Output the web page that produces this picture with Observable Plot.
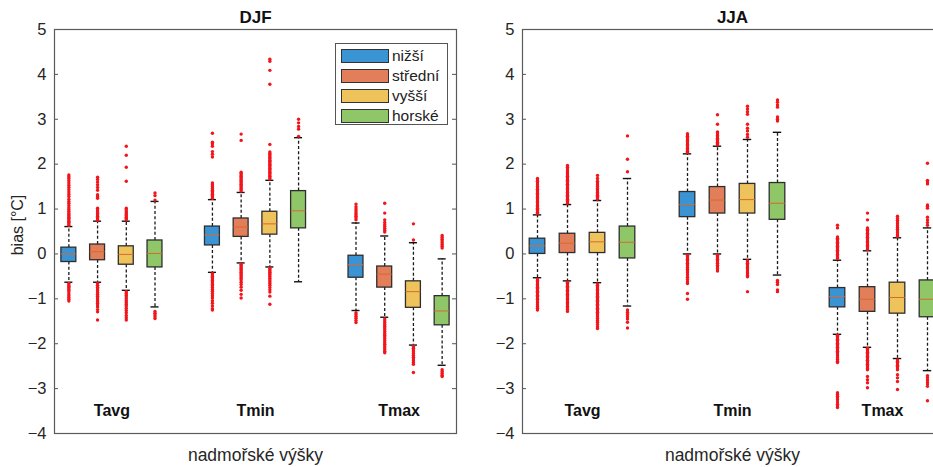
<!DOCTYPE html>
<html>
<head>
<meta charset="utf-8">
<script src="https://cdn.jsdelivr.net/npm/d3@7"></script>
<script src="https://cdn.jsdelivr.net/npm/@observablehq/plot@0.6"></script>
<style>
  body { margin: 0; background: #fff; }
  #wrap { position: relative; width: 933px; height: 467px; overflow: hidden; background: #fff;
          font-family: "Liberation Sans", Arial, sans-serif; }
  .panel { position: absolute; top: 0; }
  #legend { position: absolute; left: 335px; top: 43px; width: 113px; height: 82px;
            border: 1px solid #555; background: #fff; box-sizing: border-box; }
  .lrow { position: absolute; left: 5px; height: 14px; display: flex; align-items: center; }
  .sw { width: 48px; height: 14px; border: 1px solid #333; box-sizing: border-box; }
  .lt { margin-left: 3px; font-size: 15.5px; color: #222; line-height: 14px; }
  #ylab { position: absolute; left: 18px; top: 225px; transform: translate(-50%, -50%) rotate(-90deg);
          white-space: nowrap; font-size: 16px; color: #262626; line-height: 1; }
</style>
</head>
<body>
<div id="wrap"></div>
<script>
// ---------- data ----------
const seasons = ["DJF", "JJA"];
const groups = ["Tavg", "Tmin", "Tmax"];
const categories = ["nižší", "střední", "vyšší", "horské"];
const colors = ["#3a93d3", "#e27e5a", "#efc35c", "#8ec668"];
const yTicks = [-4, -3, -2, -1, 0, 1, 2, 3, 4, 5];
const yLabel = "bias [°C]";
const xLabel = "nadmořské výšky";

// box order: Tavg(nižší,střední,vyšší,horské), Tmin(...), Tmax(...)
const djfQ3   = [0.14, 0.21, 0.17, 0.30, 0.61, 0.79, 0.94, 1.40, -0.04, -0.28, -0.61, -0.94];
const djfMed  = [0.00, 0.05, -0.01, 0.01, 0.42, 0.60, 0.67, 0.96, -0.24, -0.45, -0.84, -1.27];
const djfQ1   = [-0.18, -0.14, -0.24, -0.30, 0.19, 0.38, 0.43, 0.57, -0.53, -0.75, -1.20, -1.59];
const djfHigh = [0.61, 0.73, 0.73, 1.17, 1.21, 1.37, 1.64, 2.59, 0.69, 0.40, 0.25, -0.11];
const djfLow  = [-0.63, -0.63, -0.81, -1.18, -0.41, -0.20, -0.29, -0.62, -1.26, -1.41, -2.03, -2.48];
const djfOutliers = [
  [0.64,0.67,0.70,0.73,0.76,0.79,0.82,0.85,0.88,0.91,0.95,0.99,1.03,1.08,1.13,1.17,1.22,1.28,1.33,1.38,1.43,1.48,1.53,1.58,1.63,1.68,1.72,1.76,
   -0.66,-0.69,-0.72,-0.75,-0.78,-0.81,-0.85,-0.89,-0.93,-0.97,-1.01,-1.05],
  [0.75,0.78,0.81,0.84,0.87,0.90,0.94,0.98,1.02,1.24,1.28,1.32,1.42,1.48,1.54,1.60,1.66,1.71,
   -0.66,-0.70,-0.74,-0.78,-0.82,-0.86,-0.90,-0.94,-0.98,-1.02,-1.06,-1.10,-1.14,-1.18,-1.24,-1.29,-1.47],
  [0.76,0.79,0.82,0.85,0.88,0.91,0.94,0.98,1.02,1.62,1.93,2.20,2.40,
   -0.84,-0.88,-0.92,-0.96,-1.00,-1.04,-1.08,-1.12,-1.16,-1.21,-1.26,-1.31,-1.37,-1.42,-1.47],
  [1.20,1.30,1.36, -1.28,-1.32,-1.36,-1.40,-1.44],
  [1.24,1.27,1.30,1.33,1.36,1.39,1.42,1.46,1.50,1.54,1.58,2.16,2.22,2.28,2.40,2.45,2.49,2.69,
   -0.44,-0.47,-0.50,-0.53,-0.56,-0.59,-0.62,-0.65,-0.68,-0.71,-0.75,-0.79,-0.83,-0.88,-0.93,-0.98,-1.04,-1.10,-1.16,-1.22,-1.25],
  [1.40,1.43,1.46,1.49,1.52,1.55,1.58,1.61,1.64,1.67,1.70,1.73,1.76,1.79,1.82,2.53,2.67,
   -0.23,-0.26,-0.29,-0.32,-0.35,-0.38,-0.41,-0.44,-0.47,-0.50,-0.54,-0.58,-0.63,-0.68,-0.74,-0.81,-0.90,-0.98],
  [1.67,1.70,1.73,1.76,1.79,1.82,1.85,1.88,1.91,1.94,1.97,2.00,2.03,2.06,2.09,2.12,2.15,2.18,2.21,2.24,2.27,2.44,3.78,4.09,4.29,4.34,
   -0.32,-0.35,-0.38,-0.41,-0.44,-0.47,-0.50,-0.54,-0.58,-0.62,-0.66,-0.70,-0.75,-0.80,-0.85,-0.94,-1.12],
  [2.62,2.78,2.84,2.92,3.00],
  [0.76,0.80,0.84,0.88,0.92,0.96,1.00,1.05,1.11, -1.31,-1.35,-1.39,-1.43,-1.48,-1.53],
  [0.49,0.53,0.57,0.61,0.65,0.70,0.76,0.91,1.13,
   -1.45,-1.49,-1.53,-1.57,-1.61,-1.65,-1.69,-1.73,-1.77,-1.81,-1.85,-1.89,-1.93,-1.97,-2.01,-2.05,-2.09,-2.13,-2.17,-2.20],
  [0.31,0.67, -2.06,-2.10,-2.14,-2.18,-2.22,-2.26,-2.30,-2.34,-2.38,-2.42,-2.46,-2.64],
  [0.13,0.17,0.21,0.25,0.29,0.33,0.37,0.41, -2.58,-2.62,-2.66,-2.70,-2.73]
];

const jjaQ3   = [0.34, 0.45, 0.47, 0.61, 1.38, 1.49, 1.56, 1.58, -0.76, -0.74, -0.64, -0.59];
const jjaMed  = [0.18, 0.24, 0.27, 0.26, 1.10, 1.20, 1.21, 1.13, -0.95, -1.01, -0.97, -1.01];
const jjaQ1   = [0.00, 0.02, 0.02, -0.10, 0.82, 0.90, 0.90, 0.76, -1.19, -1.29, -1.33, -1.41];
const jjaHigh = [0.87, 1.10, 1.19, 1.68, 2.23, 2.40, 2.55, 2.71, -0.14, 0.07, 0.36, 0.58];
const jjaLow  = [-0.53, -0.60, -0.64, -1.16, 0.00, 0.00, -0.12, -0.47, -1.79, -2.08, -2.33, -2.60];
const jjaOutliers = [
  [0.90,0.93,0.96,0.99,1.02,1.05,1.08,1.11,1.14,1.17,1.20,1.23,1.26,1.29,1.32,1.35,1.38,1.41,1.44,1.47,1.50,1.54,1.58,1.62,1.65,1.68,
   -0.56,-0.59,-0.62,-0.65,-0.68,-0.71,-0.74,-0.77,-0.80,-0.83,-0.86,-0.89,-0.92,-0.95,-0.98,-1.01,-1.05,-1.09,-1.13,-1.17,-1.21,-1.25],
  [1.13,1.16,1.19,1.22,1.25,1.28,1.31,1.34,1.37,1.40,1.43,1.46,1.49,1.52,1.55,1.58,1.61,1.64,1.67,1.70,1.73,1.77,1.81,1.85,1.89,1.93,1.97,
   -0.63,-0.66,-0.69,-0.72,-0.75,-0.78,-0.81,-0.84,-0.87,-0.90,-0.93,-0.96,-0.99,-1.02,-1.05,-1.08,-1.11,-1.14,-1.17,-1.20,-1.24,-1.28],
  [1.22,1.25,1.28,1.31,1.34,1.37,1.40,1.43,1.46,1.50,1.54,1.58,1.62,1.68,1.75,
   -0.67,-0.70,-0.73,-0.76,-0.79,-0.82,-0.85,-0.88,-0.91,-0.94,-0.97,-1.00,-1.03,-1.06,-1.09,-1.12,-1.15,-1.18,-1.21,-1.24,-1.27,-1.30,-1.33,-1.36,-1.40,-1.44,-1.48,-1.52,-1.57,-1.62,-1.66],
  [1.83,2.11,2.63, -1.25,-1.30,-1.35,-1.40,-1.45,-1.52,-1.65],
  [2.26,2.29,2.32,2.35,2.38,2.41,2.44,2.47,2.50,2.53,2.56,2.59,2.62,2.65,2.68,
   -0.03,-0.06,-0.09,-0.12,-0.15,-0.18,-0.21,-0.24,-0.27,-0.30,-0.34,-0.38,-0.42,-0.47,-0.52,-0.57,-0.62,-0.66,-0.88,-1.01],
  [2.43,2.46,2.49,2.52,2.55,2.58,2.61,2.64,2.67,2.70,2.72,2.89,3.10,
   -0.03,-0.06,-0.09,-0.12,-0.15,-0.18,-0.21,-0.25,-0.29,-0.33,-0.38],
  [2.60,2.66,2.74,2.80,2.89,3.11,3.17,3.23,3.29,
   -0.15,-0.18,-0.21,-0.24,-0.27,-0.30,-0.33,-0.36,-0.40,-0.44,-0.48,-0.51,-0.84],
  [2.96,3.00,3.05,3.27,3.32,3.38,3.43, -0.59,-0.63,-0.68,-0.80,-0.84],
  [-0.10,-0.07,-0.04,-0.01,0.02,0.05,0.08,0.11,0.14,0.17,0.20,0.23,0.26,0.29,0.32,0.35,0.38,0.58,0.64,
   -1.81,-1.84,-1.87,-1.90,-1.93,-1.96,-1.99,-2.02,-2.05,-2.08,-2.11,-2.14,-2.17,-2.20,-2.23,-2.27,-2.31,-2.35,-2.39,-2.42,
   -3.09,-3.13,-3.17,-3.21,-3.25,-3.30,-3.35,-3.39,-3.42],
  [0.10,0.13,0.16,0.19,0.22,0.25,0.28,0.31,0.34,0.37,0.40,0.43,0.46,0.49,0.52,0.55,0.58,0.76,0.91,
   -2.10,-2.13,-2.16,-2.19,-2.22,-2.25,-2.28,-2.31,-2.34,-2.37,-2.40,-2.43,-2.46,-2.49,-2.52,-2.55,-2.58,-2.73,-2.80,-2.87,-2.98],
  [0.39,0.43,0.47,0.51,0.55,0.59,0.63,0.67,0.71,0.75,0.79,0.84,
   -2.36,-2.39,-2.42,-2.45,-2.48,-2.51,-2.54,-2.58,-2.69,-2.76,-2.84,-3.02],
  [0.64,0.70,0.76,0.82,1.02,1.06,1.09,1.56,1.60,1.64,2.02,
   -2.71,-2.75,-2.80,-2.85,-2.90,-2.95,-3.27]
];

// ---------- build ----------
function rowsFor(q1, med, q3, lo, hi) {
  const rows = [];
  groups.forEach((g, gi) => categories.forEach((c, ci) => {
    const i = gi * categories.length + ci;
    rows.push({group: g, cat: c, pos: gi * 5 + ci + 1, q1: q1[i], med: med[i], q3: q3[i], lo: lo[i], hi: hi[i]});
  }));
  return rows;
}
function outRowsFor(rows, outs) {
  return rows.flatMap((r, i) => outs[i].map(v => ({pos: r.pos, v})));
}

const H = 467, MT = 29, MB = 34;
const labelY = -3.5;

function panel({season, rows, outs, left, marginLeft, plotW, marginRight}) {
  const width = marginLeft + plotW + marginRight;
  const hw = 0.26, cw = 0.14;
  const marks = [
    Plot.ruleX(rows, {x: "pos", y1: "q3", y2: "hi", stroke: "#1a1a1a", strokeWidth: 1.3, strokeDasharray: "3,2.2"}),
    Plot.ruleX(rows, {x: "pos", y1: "q1", y2: "lo", stroke: "#1a1a1a", strokeWidth: 1.3, strokeDasharray: "3,2.2"}),
    Plot.rect(rows, {x1: d => d.pos - hw, x2: d => d.pos + hw, y1: "q1", y2: "q3", fill: "cat", stroke: "#2e2e2e", strokeWidth: 1.3}),
    Plot.ruleY(rows, {y: "med", x1: d => d.pos - hw, x2: d => d.pos + hw, stroke: "#d8692c", strokeWidth: 1}),
    Plot.ruleY(rows, {y: "hi", x1: d => d.pos - cw, x2: d => d.pos + cw, stroke: "#111", strokeWidth: 1.4}),
    Plot.ruleY(rows, {y: "lo", x1: d => d.pos - cw, x2: d => d.pos + cw, stroke: "#111", strokeWidth: 1.4}),
    Plot.dot(outs, {x: "pos", y: "v", r: 1.7, fill: "#f2151b", stroke: null}),
    Plot.tickY(yTicks, {y: d => d, insetRight: plotW - 4, stroke: "#555"}),
    Plot.tickY(yTicks, {y: d => d, insetLeft: plotW - 4, stroke: "#555"}),
    Plot.frame({stroke: "#5a5a5a", strokeWidth: 1.2}),
    Plot.axisY(yTicks, {tickSize: 0, tickPadding: 8, fontSize: 16.5, label: null, fill: "#262626"}),
    Plot.text(groups, {x: (d, i) => i * 5 + 2.5, y: labelY, fontWeight: "bold", fontSize: 16, fill: "#111"}),
    Plot.text([season], {frameAnchor: "top", lineAnchor: "middle", dy: -12, fontWeight: "bold", fontSize: 17, fill: "#111"}),
    Plot.text([xLabel], {frameAnchor: "bottom", lineAnchor: "middle", dy: 22, fontSize: 17.5, fill: "#262626"})
  ];
  const svg = Plot.plot({
    width, height: H,
    marginLeft, marginRight, marginTop: MT, marginBottom: MB,
    style: {fontFamily: '"Liberation Sans", Arial, sans-serif', background: "transparent", overflow: "visible"},
    x: {domain: [0.5, 14.5], axis: null},
    y: {domain: [-4, 5], axis: null},
    color: {domain: categories, range: colors},
    marks
  });
  svg.classList.add("panel");
  svg.style.left = left + "px";
  return svg;
}

const wrap = document.getElementById("wrap");
const djfRows = rowsFor(djfQ1, djfMed, djfQ3, djfLow, djfHigh);
const jjaRows = rowsFor(jjaQ1, jjaMed, jjaQ3, jjaLow, jjaHigh);
wrap.appendChild(panel({season: seasons[0], rows: djfRows, outs: outRowsFor(djfRows, djfOutliers),
  left: 0, marginLeft: 54, plotW: 402, marginRight: 12}));
wrap.appendChild(panel({season: seasons[1], rows: jjaRows, outs: outRowsFor(jjaRows, jjaOutliers),
  left: 460, marginLeft: 62, plotW: 420, marginRight: 10}));

// y-axis title
const yl = document.createElement("div");
yl.id = "ylab";
yl.textContent = yLabel;
wrap.appendChild(yl);

// legend
const legend = document.createElement("div");
legend.id = "legend";
categories.forEach((c, i) => {
  const row = document.createElement("div");
  row.className = "lrow";
  row.style.top = (5 + i * 20) + "px";
  const sw = document.createElement("div");
  sw.className = "sw";
  sw.style.background = colors[i];
  const t = document.createElement("span");
  t.className = "lt";
  t.textContent = c;
  row.appendChild(sw); row.appendChild(t);
  legend.appendChild(row);
});
wrap.appendChild(legend);
</script>
</body>
</html>
